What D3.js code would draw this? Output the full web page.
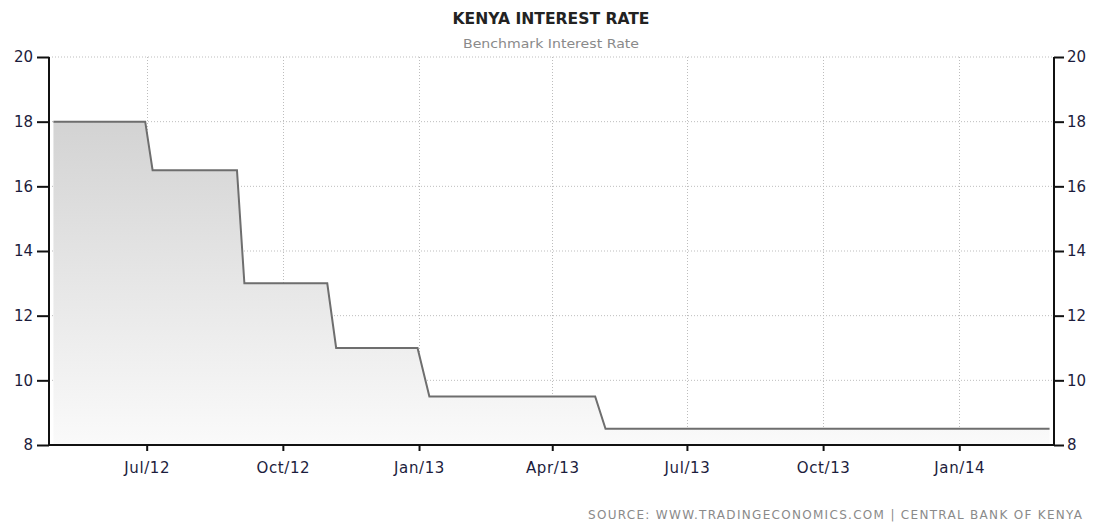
<!DOCTYPE html>
<html>
<head>
<meta charset="utf-8">
<script src="https://cdn.jsdelivr.net/npm/d3@7"></script>
<style>
  body { margin: 0; background: #fff; }
  text { font-family: "DejaVu Sans", sans-serif; }
</style>
</head>
<body>
<div id="vis"></div>
<script>
// rate decisions: value holds until month start, then moves to new rate on decision day
const dates = ["2012-04-29", "2012-06-30", "2012-07-05", "2012-08-31", "2012-09-05",
  "2012-10-31", "2012-11-06", "2012-12-31", "2013-01-08", "2013-04-30", "2013-05-07", "2014-03-03"];
const rates = [18, 18, 16.5, 16.5, 13, 13, 11, 11, 9.5, 9.5, 8.5, 8.5];
const xTicks = ["2012-07-01", "2012-10-01", "2013-01-01", "2013-04-01", "2013-07-01", "2013-10-01", "2014-01-01"];
const yTicks = [8, 10, 12, 14, 16, 18, 20];

const W = 1099, H = 527;
const margin = { top: 57, left: 49, right: 45, bottom: 82 };
const parse = d3.timeParse("%Y-%m-%d");
const data = dates.map((d, i) => ({ date: parse(d), value: rates[i] }));

let svg = d3.select("#vis").append("svg")
  .attr("width", W).attr("height", H);

let x = d3.scaleTime()
  .domain([parse("2012-04-26"), parse("2014-03-06")])
  .range([margin.left, W - margin.right]);
let y = d3.scaleLinear()
  .domain([8, 20])
  .range([H - margin.bottom, margin.top]);

// gradient for the area
let grad = svg.append("defs").append("linearGradient")
  .attr("id", "fillGrad")
  .attr("gradientUnits", "userSpaceOnUse")
  .attr("x1", 0).attr("x2", 0)
  .attr("y1", y(18)).attr("y2", y(8));
grad.append("stop").attr("offset", "0%").attr("stop-color", "#d3d3d3");
grad.append("stop").attr("offset", "100%").attr("stop-color", "#fafafa");

// gridlines
svg.append("g").selectAll("line").data(yTicks.filter(d => d > 8)).join("line")
  .attr("x1", margin.left).attr("x2", W - margin.right)
  .attr("y1", d => y(d)).attr("y2", d => y(d))
  .attr("stroke", "#bdbdbd").attr("stroke-dasharray", "1,2");
svg.append("g").selectAll("line").data(xTicks).join("line")
  .attr("x1", d => Math.round(x(parse(d))) + 0.5).attr("x2", d => Math.round(x(parse(d))) + 0.5)
  .attr("y1", y(20)).attr("y2", y(8))
  .attr("stroke", "#bdbdbd").attr("stroke-dasharray", "1,2");

// area + line
svg.append("path").datum(data)
  .attr("fill", "url(#fillGrad)")
  .attr("d", d3.area().x(d => x(d.date)).y0(y(8)).y1(d => y(d.value)));
svg.append("path").datum(data)
  .attr("fill", "none").attr("stroke", "#6e6e6e").attr("stroke-width", 2)
  .attr("d", d3.line().x(d => x(d.date)).y(d => y(d.value)));

// axes
let yLeft = svg.append("g")
  .attr("transform", `translate(${margin.left},0)`)
  .call(d3.axisLeft(y).tickValues(yTicks).tickSize(12).tickPadding(4));
let yRight = svg.append("g")
  .attr("transform", `translate(${W - margin.right},0)`)
  .call(d3.axisRight(y).tickValues(yTicks).tickSize(10).tickPadding(3));
let xAxis = svg.append("g")
  .attr("transform", `translate(0,${y(8)})`)
  .call(d3.axisBottom(x).tickValues(xTicks.map(parse))
    .tickFormat(d3.timeFormat("%b/%y")).tickSize(6).tickPadding(11));

[yLeft, yRight, xAxis].forEach(g => {
  g.select(".domain").attr("stroke", "#111").attr("stroke-width", 2);
  g.selectAll(".tick line").attr("stroke", "#111").attr("stroke-width", 2);
  g.selectAll("text").attr("fill", "#1c1c3c").attr("font-size", 15);
});
xAxis.selectAll("text").attr("letter-spacing", 0.6);
xAxis.select(".domain").attr("d", `M${margin.left},0H${W - margin.right}`);
yLeft.select(".domain").attr("d", `M0,${y(20)}V${y(8)}`);
yRight.select(".domain").attr("d", `M0,${y(20)}V${y(8)}`);

// titles
svg.append("text")
  .attr("x", 551).attr("y", 24).attr("text-anchor", "middle")
  .attr("font-size", 15).attr("font-weight", "bold").attr("fill", "#222")
  .attr("textLength", 197).attr("lengthAdjust", "spacingAndGlyphs")
  .text("KENYA INTEREST RATE");
svg.append("text")
  .attr("x", 551).attr("y", 48).attr("text-anchor", "middle")
  .attr("font-size", 12).attr("fill", "#8a8a8a")
  .attr("textLength", 176).attr("lengthAdjust", "spacingAndGlyphs")
  .text("Benchmark Interest Rate");
svg.append("text")
  .attr("x", 1082).attr("y", 519).attr("text-anchor", "end")
  .attr("font-size", 12).attr("fill", "#8a8a8a")
  .attr("textLength", 494).attr("lengthAdjust", "spacing")
  .text("SOURCE: WWW.TRADINGECONOMICS.COM | CENTRAL BANK OF KENYA");
</script>
</body>
</html>
